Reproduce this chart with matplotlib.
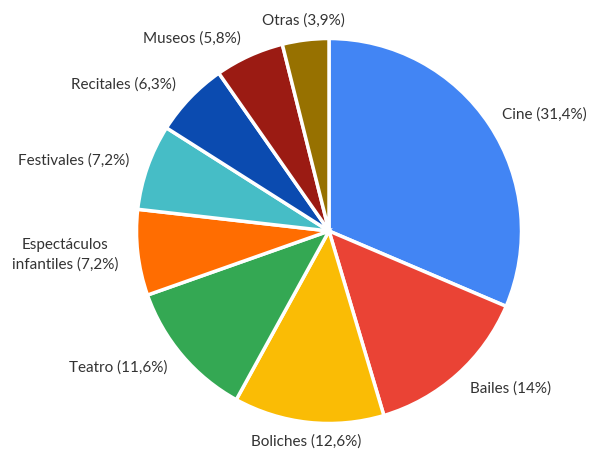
"""Pie chart: distribución de salidas culturales."""
import math

import matplotlib
matplotlib.use("Agg")
import matplotlib.pyplot as plt

plt.rcParams.update({"font.family": ["Lato", "DejaVu Sans"], "font.size": 11})

CATEGORIES = ["Cine", "Bailes", "Boliches", "Teatro", "Espectáculos\ninfantiles",
              "Festivales", "Recitales", "Museos", "Otras"]
SHARES = [31.4, 14.0, 12.6, 11.6, 7.2, 7.2, 6.3, 5.8, 3.9]
SHARE_TEXT = ["31,4%", "14%", "12,6%", "11,6%", "7,2%", "7,2%", "6,3%", "5,8%", "3,9%"]
COLORS = ["#4285F4", "#EA4335", "#FABC05", "#34A853", "#FF6D01",
          "#46BDC6", "#0B4BB0", "#9B1B13", "#977100"]

labels = [f"{cat} ({txt})" for cat, txt in zip(CATEGORIES, SHARE_TEXT)]

fig = plt.figure(figsize=(5.93, 4.5), dpi=100)
ax = fig.add_axes([0, 0, 1, 1])

wedges, texts = ax.pie(
    SHARES, labels=labels, colors=COLORS, startangle=90, counterclock=False,
    center=(329, 219), radius=192.5, labeldistance=1.1,
    wedgeprops={"edgecolor": "white", "linewidth": 2.5},
    textprops={"color": "#333333"}, frame=True,
)
ax.set_xlim(0, 593)
ax.set_ylim(0, 450)
ax.set_aspect("equal")
ax.axis("off")

# pie() aligns every label left because the centre is offset; fix per side
for w, t in zip(wedges, texts):
    mid = math.radians((w.theta1 + w.theta2) / 2)
    c = math.cos(mid)
    if c > 0.15:
        t.set_ha("left")
    elif c < -0.15:
        t.set_ha("right")
    else:
        t.set_ha("center")
    t.set_multialignment("center")
    t.set_linespacing(1.45)

# keep the Cine label inside the canvas
x, y = texts[0].get_position()
texts[0].set_position((x - 4, y))

fig.savefig("out.png", dpi=100)
